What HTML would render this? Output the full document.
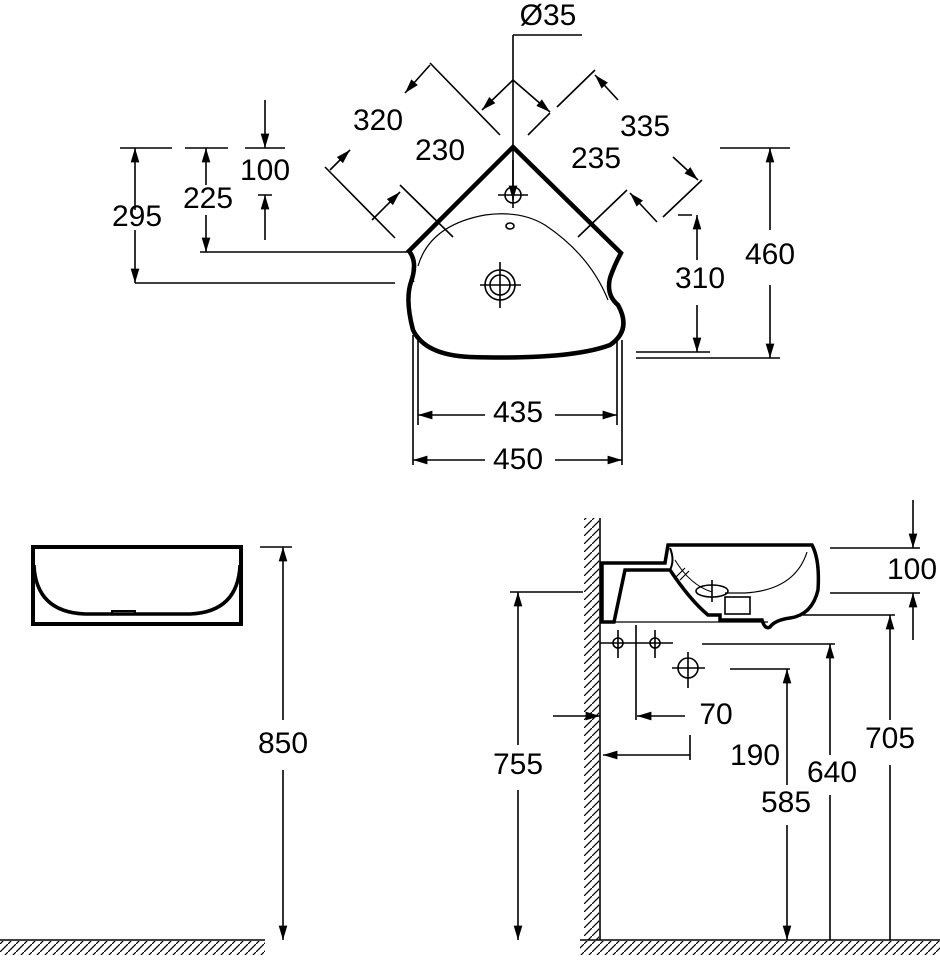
<!DOCTYPE html>
<html><head><meta charset="utf-8"><style>
html,body{margin:0;padding:0;background:#fff}
svg{display:block}
text{font-family:"Liberation Sans",sans-serif;font-size:30px;fill:#000;text-anchor:middle;dominant-baseline:middle}
</style></head><body>
<svg width="940" height="970" viewBox="0 0 940 970" xmlns="http://www.w3.org/2000/svg">
<defs>
<marker id="a" viewBox="0 0 10 10" refX="10" refY="5" markerWidth="9" markerHeight="9" orient="auto-start-reverse"><path d="M0,2 L10,5 L0,8 z" fill="#000"/></marker>
<pattern id="h" width="8" height="8" patternUnits="userSpaceOnUse"><path d="M0,8 L8,0" stroke="#000" stroke-width="1.2"/></pattern>
</defs>
<g fill="none" stroke="#000" stroke-width="1.6">
<path d="M409,251 L513,147 L621,253 Q614,266 610,278 Q606,295 618,305 Q632,330 610,345 Q570,360 470,357 Q425,355 413,330 Q405,300 411,282 Q418,262 409,251 Z" stroke-width="4.5"/>
<path d="M414,262 Q410,270 414,282" stroke-width="1"/>
<path d="M418,266 Q430,225 485,215 Q520,210 545,225 Q590,255 608,300" stroke-width="1.2"/>
<ellipse cx="510" cy="226" rx="4" ry="3"/>
<circle cx="500" cy="285" r="10"/><circle cx="500" cy="285" r="15"/>
<path d="M480,285 H521 M500,262 V308" />
<circle cx="513" cy="195" r="8"/><path d="M498,195 H528"/>
<path d="M513,35 V208 M513,35 H582"/>
<path d="M513,160 V200" marker-end="url(#a)"/>
<path d="M325,167 L395,238 M430,63 L500,135 M400,185 L453,237 M528,135 L550,113 M557,107 L595,70 M663,217 L702,180 M578,237 L627,190"/>
<path d="M330,170 L350,150" marker-end="url(#a)"/>
<path d="M405,93 L430,65" marker-start="url(#a)"/>
<path d="M372,220 L400,192" marker-end="url(#a)"/>
<path d="M513,80 L482,110" marker-end="url(#a)"/>
<path d="M513,80 L550,112" marker-end="url(#a)"/>
<path d="M618,100 L595,75" marker-end="url(#a)"/>
<path d="M673,157 L698,180" marker-end="url(#a)"/>
<path d="M657,222 L630,193" marker-end="url(#a)"/>
<path d="M120,148 H172 M185,148 H228 M245,148 H285 M200,252 H409 M135,283 H395 M258,195 H272"/>
<path d="M135,210 V148" marker-end="url(#a)"/><path d="M135,230 V283" marker-end="url(#a)"/>
<path d="M206,185 V148" marker-end="url(#a)"/><path d="M206,215 V252" marker-end="url(#a)"/>
<path d="M265,100 V148" marker-end="url(#a)"/><path d="M265,240 V195" marker-end="url(#a)"/>
<path d="M720,148 H790 M636,352 H710 M636,358 H780 M678,215 H692"/>
<path d="M770,230 V148" marker-end="url(#a)"/><path d="M770,285 V358" marker-end="url(#a)"/>
<path d="M697,260 V215" marker-end="url(#a)"/><path d="M697,305 V352" marker-end="url(#a)"/>
<path d="M413,335 V465 M418,335 V425 M622,340 V465 M617,340 V425"/>
<path d="M485,415 H418" marker-end="url(#a)"/><path d="M555,415 H617" marker-end="url(#a)"/>
<path d="M485,460 H413" marker-end="url(#a)"/><path d="M555,460 H622" marker-end="url(#a)"/>

<!-- front view -->
<rect x="33" y="547" width="208" height="77" stroke-width="4"/>
<path d="M34,565 Q36,612 85,614 H190 Q238,612 240,565" stroke-width="3.5"/>
<path d="M112,614 V611 H135 V614" stroke-width="2"/>
<path d="M260,547 H292"/>
<path d="M283,720 V547" marker-end="url(#a)"/><path d="M283,770 V940" marker-end="url(#a)"/>
<path d="M0,940 H265"/>
<rect x="0" y="941" width="265" height="14" fill="url(#h)" stroke="none"/>

<path d="M600,518 V940"/>
<rect x="584" y="518" width="15" height="422" fill="url(#h)" stroke="none"/>
<path d="M580,940 H940"/>
<rect x="580" y="941" width="360" height="14" fill="url(#h)" stroke="none"/>
<path d="M602,563 H665 L668,545 H812 Q820,560 818,590 Q812,615 790,618 Q775,620 770,627 Q765,630 762,620 H720 V615 H708 Q690,600 670,570 H625 L614,622 H602 Z" stroke-width="3.5"/>
<path d="M670,570 Q675,560 670,548" stroke-width="2"/>
<path d="M807,552 Q795,590 745,593 H725" stroke-width="1.2"/>
<path d="M675,560 Q690,585 712,592" stroke-width="1"/>
<path d="M676,577 L685,568 M680,580 L689,571" stroke-width="1.2"/>
<ellipse cx="712" cy="591" rx="16" ry="6"/><path d="M712,580 V602"/>
<rect x="725" y="597" width="25" height="17"/>
<path d="M614,622 H768" stroke-width="1.2"/>
<circle cx="618" cy="643" r="5"/><path d="M618,630 V658 M600,643 H673"/>
<circle cx="655" cy="643" r="5"/><path d="M655,630 V658"/>
<path d="M636,625 V720"/>
<circle cx="688" cy="668" r="10"/><path d="M672,668 H705 M688,652 V688"/>
<path d="M830,548 H920 M830,593 H920 M803,615 H895 M702,644 H835 M730,669 H790 M510,592 H583 M690,735 V760"/>
<path d="M913,500 V548" marker-end="url(#a)"/><path d="M913,640 V593" marker-end="url(#a)"/>
<path d="M890,720 V615" marker-end="url(#a)"/><path d="M890,765 V940"/>
<path d="M830,755 V644" marker-end="url(#a)"/><path d="M830,795 V940"/>
<path d="M787,785 V669" marker-end="url(#a)"/><path d="M787,825 V940" marker-end="url(#a)"/>
<path d="M518,745 V592" marker-end="url(#a)"/><path d="M518,790 V940" marker-end="url(#a)"/>
<path d="M553,716 H600" marker-end="url(#a)"/>
<path d="M685,716 H637" marker-end="url(#a)"/>
<path d="M690,755 H603" marker-end="url(#a)"/>
</g>
<g>
<text x="548" y="17">Ø35</text>
<text x="378" y="122">320</text>
<text x="440" y="152">230</text>
<text x="645" y="128">335</text>
<text x="596" y="160">235</text>
<text x="265" y="172">100</text>
<text x="208" y="200">225</text>
<text x="137" y="218">295</text>
<text x="770" y="256">460</text>
<text x="700" y="280">310</text>
<text x="518" y="414">435</text>
<text x="518" y="461">450</text>
<text x="283" y="745">850</text>
<text x="912" y="571">100</text>
<text x="890" y="740">705</text>
<text x="832" y="774">640</text>
<text x="786" y="804">585</text>
<text x="518" y="766">755</text>
<text x="716" y="716">70</text>
<text x="755" y="757">190</text>
</g>
</svg>
</body></html>
